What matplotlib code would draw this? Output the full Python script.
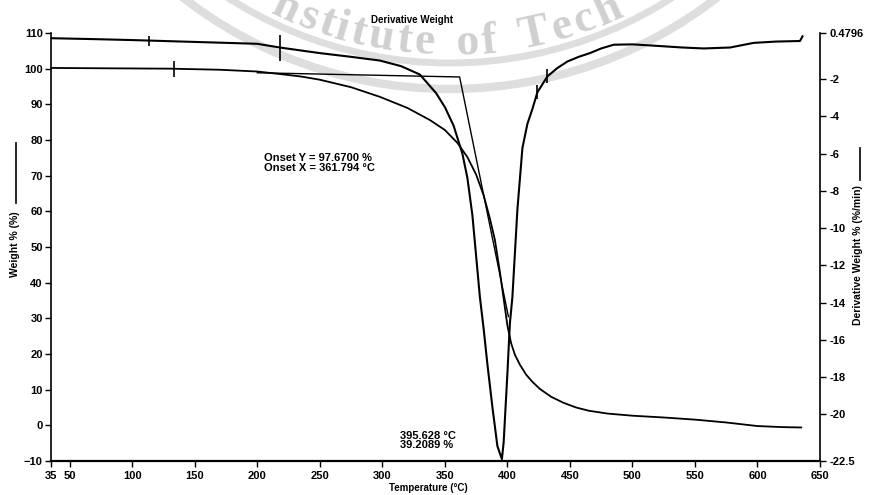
import numpy as np
import matplotlib.pyplot as plt
from matplotlib.patches import Circle
from matplotlib.textpath import TextToPath
from matplotlib.font_manager import FontProperties

plt.rcParams['font.family'] = ['Liberation Sans', 'DejaVu Sans']
plt.rcParams['font.weight'] = 'bold'

# Weight % curve (left axis)
temp_w = [35, 80, 130, 170, 200, 218, 235, 250, 275, 298, 320, 338, 350, 360,
          368, 375, 381, 386, 390, 394, 397, 400, 403, 406, 410, 415, 420, 426,
          435, 445, 455, 465, 480, 500, 525, 550, 575, 600, 620, 635]
weight = [100.2, 100.1, 100.0, 99.7, 99.2, 98.5, 97.8, 96.9, 94.8, 92.1, 89.0,
          85.6, 82.8, 79.2, 75.2, 70.3, 64.5, 58.0, 52.0, 43.0, 35.5, 28.0, 23.0,
          19.8, 17.0, 14.2, 12.2, 10.2, 8.0, 6.3, 5.0, 4.1, 3.3, 2.7, 2.2, 1.6,
          0.8, -0.2, -0.5, -0.6]

# Derivative weight curve (right axis)
temp_d = [35, 70, 100, 150, 200, 218, 250, 275, 298, 315, 330, 343, 350, 357,
          364, 368, 372, 378, 381, 384, 388, 392, 395.6, 397, 400, 402, 404, 408,
          412, 416, 420, 424, 432, 440, 448, 457, 466, 475, 485, 500, 517, 540,
          557, 578, 597, 615, 634, 636]
deriv = [0.2, 0.15, 0.1, 0.0, -0.1, -0.3, -0.6, -0.8, -1.0, -1.3, -1.75,
         -2.75, -3.5, -4.5, -6.0, -7.3, -9.3, -13.7, -15.4, -17.3, -19.6, -21.7,
         -22.4, -21.5, -17.8, -15.1, -13.7, -9.0, -5.7, -4.4, -3.6, -2.7, -1.85,
         -1.4, -1.05, -0.8, -0.6, -0.35, -0.15, -0.13, -0.2, -0.3, -0.35,
         -0.3, -0.05, 0.02, 0.05, 0.3]

# onset construction lines
tangent_T = [200, 361.794, 400.8]
tangent_W = [98.85, 97.67, 30.5]

# instrument cursor marks
weight_mark_T = [133]
deriv_mark_T = [113, 218, 424, 432]
deriv_mark_sizes = [7, 19, 10, 10]

x_ticks = [35, 50, 100, 150, 200, 250, 300, 350, 400, 450, 500, 550, 600, 650]
left_ticks = list(range(-10, 111, 10))
right_ticks = [0.4796, -2, -4, -6, -8, -10, -12, -14, -16, -18, -20, -22.5]
right_labels = ['0.4796', '-2', '-4', '-6', '-8', '-10', '-12', '-14', '-16',
                '-18', '-20', '-22.5']

fig = plt.figure(figsize=(8.7, 4.95), dpi=100)

# background layer in pixel coordinates (watermark + outer labels)
bg = fig.add_axes([0, 0, 1, 1], zorder=-5)
bg.set_xlim(0, 870)
bg.set_ylim(495, 0)
bg.axis('off')

cx, cy, r_txt = 450, -347, 402
for rr, lw in [(410, 5), (436, 6)]:
    bg.add_patch(Circle((cx, cy), rr, fill=False, ec='#dedede', lw=lw))

wm = 'Institute of Technology'
fp = FontProperties(family='Liberation Serif', size=33)
ttp = TextToPath()
px = 100 / 72
widths = []
for ch in wm:
    if ch == ' ':
        widths.append(33 * 0.35 * px)
    else:
        widths.append(ttp.get_text_width_height_descent(ch, fp, ismath=False)[0] * px)
widths = np.array(widths)
centers = np.cumsum(widths) - widths / 2
i_s, i_c = 2, 15
th_s = np.arcsin((305 - cx) / r_txt)
th_c = np.arcsin((588 - cx) / r_txt)
k = r_txt * (th_c - th_s) / (centers[i_c] - centers[i_s])
for ch, c in zip(wm, centers):
    if ch == ' ':
        continue
    th = th_s + (c - centers[i_s]) * k / r_txt
    x, y = cx + r_txt * np.sin(th), cy + r_txt * np.cos(th)
    if y < 8:
        continue
    bg.text(x, y, ch, fontproperties=fp, color='#d0d0d0', ha='center',
            va='baseline', rotation=np.degrees(th), rotation_mode='anchor')

bg.text(412, 20, 'Derivative Weight', fontsize=7, ha='center', va='center')
bg.text(428, 488, 'Temperature (°C)', fontsize=7, ha='center', va='center')
bg.text(15, 244, 'Weight % (%)', fontsize=7.5, rotation=90, ha='center', va='center')
bg.plot([16, 16], [143, 203], color='black', lw=1.2)
bg.text(858, 255, 'Derivative Weight % (%/min)', fontsize=7.5, rotation=90,
        ha='center', va='center')
bg.plot([860, 860], [148, 180], color='black', lw=1.2)

# main axes
ax = fig.add_axes([51 / 870, 1 - 461 / 495, 769 / 870, 428 / 495])
ax.patch.set_visible(False)
ax.plot(temp_w, weight, color='black', lw=1.3)
ax.plot(tangent_T, tangent_W, color='black', lw=1.0)
ax.plot(weight_mark_T, np.interp(weight_mark_T, temp_w, weight), '|',
        color='black', ms=12, mew=1.2)
ax.set_xlim(35, 650)
ax.set_ylim(-10, 110)
ax.set_xticks(x_ticks)
ax.set_yticks(left_ticks)
ax.tick_params(axis='both', direction='out', length=4, width=1, labelsize=8)
ax.tick_params(axis='x', pad=3)
ax.tick_params(axis='y', pad=2)
ax.spines['top'].set_visible(False)
ax.spines['right'].set_visible(False)
ax.spines['left'].set_linewidth(1.2)
ax.spines['bottom'].set_linewidth(1.6)

ax.text(205, 73.5, 'Onset Y = 97.6700 %\nOnset X = 361.794 °C', fontsize=8,
        ha='left', va='center', linespacing=0.95)
ax.text(314, -4.2, '395.628 °C\n39.2089 %', fontsize=8, ha='left',
        va='center', linespacing=0.95)

ax2 = ax.twinx()
ax2.plot(temp_d, deriv, color='black', lw=1.5)
mark_D = np.interp(deriv_mark_T, temp_d, deriv)
for t, d, s in zip(deriv_mark_T, mark_D, deriv_mark_sizes):
    ax2.plot([t], [d], '|', color='black', ms=s, mew=1.2)
ax2.set_ylim(-22.5, 0.4796)
ax2.set_yticks(right_ticks)
ax2.set_yticklabels(right_labels)
ax2.tick_params(axis='y', direction='out', length=4, width=1, labelsize=8, pad=3)
ax2.spines['top'].set_visible(False)
ax2.spines['left'].set_visible(False)
ax2.spines['bottom'].set_visible(False)
ax2.spines['right'].set_linestyle((0, (2, 1)))
ax2.spines['right'].set_linewidth(1.2)

fig.savefig('out.png', dpi=100)
